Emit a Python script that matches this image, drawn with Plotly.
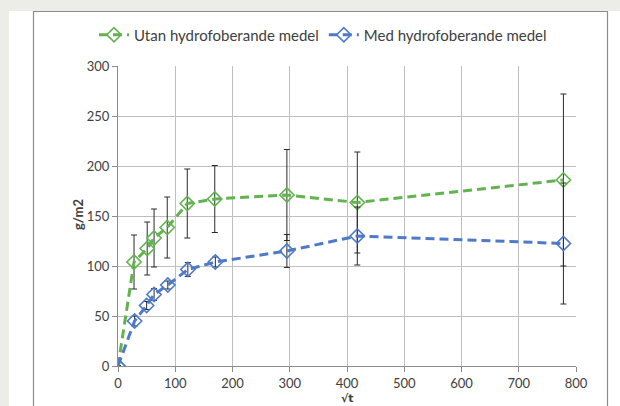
import plotly.graph_objects as go

x_utan = [0, 28, 51, 63, 86, 121, 169, 295, 418, 778]
y_utan = [0, 104, 117.5, 128, 138.5, 162.5, 167, 171, 163.5, 186]
err_utan = [0, 27, 26.5, 29, 30.5, 34.5, 33.5, 45.5, 50.5, 86]

x_med = [0, 29, 50, 63, 87, 122, 170, 295, 418, 778]
y_med = [0, 45, 60.5, 71.5, 81, 96.5, 104, 115, 130, 122.5]
err_med = [0, 5, 4, 6, 4, 7, 5, 16.5, 29, 60.5]

x_ticks = [0, 100, 200, 300, 400, 500, 600, 700, 800]
y_ticks = [0, 50, 100, 150, 200, 250, 300]

GREEN = "#62B34F"
BLUE = "#4E7AC7"
FONT = "Lato"
TXT = "#404040"

fig = go.Figure()
for name, xs, ys, es, col in [
    ("Utan hydrofoberande medel", x_utan, y_utan, err_utan, GREEN),
    ("Med hydrofoberande medel", x_med, y_med, err_med, BLUE),
]:
    fig.add_trace(go.Scatter(
        x=xs, y=ys, name=name, mode="lines+markers",
        line=dict(color=col, width=3, dash="9px,5px"),
        marker=dict(symbol="diamond-open", size=11, color=col, line=dict(width=1.6, color=col)),
        error_y=dict(type="data", array=es, visible=True, color="#2A2A2A", thickness=1, width=3),
    ))

L, R, T, B = 118, 44, 66, 40
W, H = 620, 406
pw, ph = W - L - R, H - T - B

def px(p):
    return (p - L) / pw

def py(p):
    return (H - B - p) / ph

shapes = [
    dict(type="rect", xref="paper", yref="paper", x0=px(0), x1=px(W), y0=py(0), y1=py(H + 20),
         fillcolor="#EDEDE8", line=dict(width=0), layer="below"),
    dict(type="rect", xref="paper", yref="paper", x0=px(9), x1=px(W + 10), y0=py(11), y1=py(H + 20),
         fillcolor="white", line=dict(width=0), layer="below"),
    dict(type="rect", xref="paper", yref="paper", x0=px(33.5), x1=px(607.5), y0=py(11.5), y1=py(H + 20),
         fillcolor="rgba(0,0,0,0)", line=dict(width=1.2, color="#8C8C8C"), layer="below"),
]

annotations = [
    dict(text="<b>g/m2</b>", xref="paper", yref="paper", x=px(68), y=py(215), showarrow=False,
         textangle=-90, font=dict(family=FONT, size=13, color=TXT)),
    dict(text="<b>√t</b>", xref="paper", yref="paper", x=px(347), y=py(390), yanchor="top",
         showarrow=False, font=dict(family="DejaVu Sans", size=11, color=TXT)),
]

fig.update_layout(
    width=W, height=H,
    margin=dict(l=L, r=R, t=T, b=B, autoexpand=False),
    paper_bgcolor="white", plot_bgcolor="white",
    shapes=shapes, annotations=annotations,
    font=dict(family=FONT, size=13, color=TXT),
    legend=dict(orientation="h", x=px(323), xanchor="center", y=py(35), yanchor="middle",
                font=dict(family=FONT, size=15, color=TXT), bgcolor="rgba(0,0,0,0)",
                itemwidth=30, tracegroupgap=0),
    showlegend=True,
)
fig.update_xaxes(range=[0, 800], tickvals=x_ticks, showgrid=True, gridcolor="#BFBFBF", gridwidth=1,
                 showline=True, linecolor="#8C8C8C", ticks="outside", ticklen=5, tickcolor="#8C8C8C",
                 zeroline=False, tickfont=dict(family=FONT, size=13, color=TXT), mirror=False)
fig.update_yaxes(range=[0, 300], tickvals=y_ticks, showgrid=True, gridcolor="#BFBFBF", gridwidth=1,
                 showline=True, linecolor="#8C8C8C", ticks="outside", ticklen=5, tickcolor="#8C8C8C",
                 zeroline=False, tickfont=dict(family=FONT, size=13, color=TXT))

fig.write_html("out.html", config={"displayModeBar": False},
               post_script="document.body.style.margin='0';document.body.style.overflow='hidden';")
